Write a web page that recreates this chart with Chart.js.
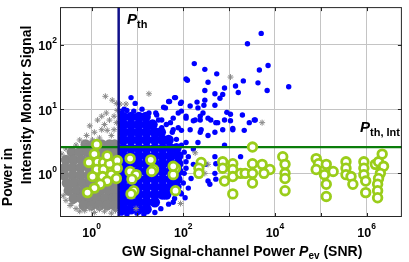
<!DOCTYPE html>
<html><head><meta charset="utf-8">
<script src="https://cdn.jsdelivr.net/npm/chart.js@4.4.1/dist/chart.umd.min.js"></script>
<style>html,body{margin:0;padding:0;background:#fff;overflow:hidden}canvas{display:block}</style>
</head><body>
<canvas id="c" width="409" height="262"></canvas>
<script>
// All values are log10 exponents.
const xRangeExp = [-0.69, 6.77];
const yRangeExp = [-0.68, 2.59];
const xGridExp = [0, 1, 2, 3, 4, 5, 6];
const yGridExp = [0, 1, 2];
const xTickExp = ['0', '2', '4', '6'];
const yTickExp = ['0', '1', '2'];
const pThExp = 0.59;     // P_th (vertical line)
const pThIntExp = 0.41;  // P_th,Int (horizontal line)

// dense grey cloud (below threshold), rows: [y, [x...]]
const grayCore = [
  [0.45, [-0.13, 0.04, 0.22, 0.39, 0.50]],
  [0.33, [-0.43, -0.26, -0.09, 0.09, 0.26, 0.43, 0.52]],
  [0.21, [-0.56, -0.39, -0.22, -0.04, 0.13, 0.30, 0.47, 0.54]],
  [0.09, [-0.58, -0.41, -0.24, -0.06, 0.11, 0.28, 0.45, 0.54]],
  [-0.03, [-0.60, -0.41, -0.24, -0.06, 0.11, 0.28, 0.45, 0.54]],
  [-0.15, [-0.54, -0.37, -0.19, -0.02, 0.15, 0.32, 0.47, 0.54]],
  [-0.27, [-0.50, -0.32, -0.15, 0.02, 0.19, 0.37, 0.52]],
  [-0.39, [-0.39, -0.22, -0.04, 0.13, 0.30, 0.47, 0.54]],
  [-0.50, [-0.17, 0.00, 0.17, 0.34, 0.50]]
];
// scattered grey stars around the cloud
const grayStars = [
  [0.30,1.20],[0.45,1.14],[0.54,1.09],[0.22,0.89],[0.32,0.94],[0.39,0.83],[0.49,0.89],[0.13,0.83],
  [0.28,0.76],[-0.04,0.74],[-0.11,0.59],[-0.26,0.52],[0.06,0.64],[0.22,0.68],[0.34,0.67],[0.49,0.68],
  [0.43,0.59],[0.17,0.55],[0.02,0.52],[0.54,0.79],[0.56,0.98],[-0.17,0.48],[-0.34,0.44],
  [-0.56,0.38],[-0.65,0.30],[-0.62,-0.35],[-0.56,-0.42],[-0.47,-0.50],[-0.34,-0.55],[-0.43,-0.47],
  [-0.15,-0.58],[0.06,-0.61],[0.28,-0.59],[0.43,-0.62],[-0.04,-0.55],[0.17,-0.56],[0.52,-0.58],[-0.26,-0.59],
  [1.25,1.24],[3.03,1.50],[3.72,0.79],[2.26,0.32],[2.54,0.14],[1.94,-0.47],[0.97,-0.55],[2.47,0.00],
  [0.62,1.08],[0.75,1.08]
];
// dense blue cloud (above threshold), rows: [y, [x...]]
const blueCore = [
  [0.88, [0.69, 0.86, 1.03, 1.18]],
  [0.76, [0.69, 0.86, 1.03, 1.20, 1.33]],
  [0.64, [0.69, 0.86, 1.03, 1.20, 1.38, 1.51]],
  [0.52, [0.69, 0.86, 1.03, 1.20, 1.38, 1.55, 1.68]],
  [0.39, [0.69, 0.86, 1.03, 1.20, 1.38, 1.55, 1.72, 1.85]],
  [0.27, [0.69, 0.86, 1.03, 1.20, 1.38, 1.55, 1.72, 1.89]],
  [0.15, [0.69, 0.86, 1.03, 1.20, 1.38, 1.55, 1.72, 1.89]],
  [0.03, [0.69, 0.86, 1.03, 1.20, 1.38, 1.55, 1.72, 1.89]],
  [-0.09, [0.69, 0.86, 1.03, 1.20, 1.38, 1.55, 1.72, 1.87]],
  [-0.21, [0.69, 0.86, 1.03, 1.20, 1.38, 1.55, 1.72, 1.85]],
  [-0.33, [0.69, 0.86, 1.03, 1.20, 1.38, 1.55, 1.63]],
  [-0.45, [0.69, 0.86, 1.03, 1.20, 1.38]],
  [-0.56, [0.69, 0.86, 1.03, 1.20]]
];
// individual blue points
const blueDots = [
  [3.70,2.18],[3.40,2.02],[3.85,1.68],[3.66,1.61],[2.24,1.71],[2.47,1.62],[2.73,1.55],[2.09,1.45],
  [2.54,1.42],[3.14,1.36],[3.31,1.44],[3.63,1.41],[3.83,1.29],[2.90,1.33],[2.47,1.29],[3.20,1.26],
  [2.69,1.24],[2.86,1.23],[2.80,1.17],[1.81,1.18],[1.70,1.12],[1.94,1.09],[2.30,1.11],[2.47,1.14],
  [2.69,1.06],[2.45,1.06],[1.61,1.02],[1.40,0.94],[3.29,0.91],[2.95,0.95],[3.03,0.92],[1.89,0.94],
  [1.96,0.97],[2.06,0.86],[2.37,0.89],[2.60,0.83],[2.75,0.79],[3.44,0.79],[3.57,0.83],[3.08,0.70],
  [2.15,0.68],[1.96,0.67],[1.78,0.68],[1.46,0.83],[1.18,0.86],[1.31,0.79],[4.30,1.35],[2.06,1.47],
  [0.86,1.18],[0.95,1.09],[1.68,1.12],[1.83,1.18],[1.96,1.11],[1.57,1.03],[0.77,0.98],[0.65,0.97],
  [0.71,1.00],[0.92,0.97],[1.10,1.00],[1.25,0.94],[1.42,0.91],[1.53,0.83],[1.63,0.76],[1.76,0.64],
  [1.85,0.53],[1.96,0.44],[2.02,0.33],[2.06,0.18],[2.02,0.00],[2.00,-0.15],[1.94,-0.30],[1.81,-0.39],
  [1.68,-0.48],[1.51,-0.55],[1.38,-0.61],[0.77,-0.64],[0.99,-0.62],[1.14,-0.64],[0.65,-0.62],
  [2.15,1.05],[2.32,1.02],[2.43,0.94],[2.06,0.89],[2.22,0.82],[2.37,0.83],[2.54,0.86],[2.71,0.79],
  [2.90,0.83],[3.03,0.82],[3.55,0.83],[3.08,0.68],[2.54,0.59],[2.37,0.64],[2.69,0.64],[2.90,0.44],
  [2.06,0.48],[2.22,0.38],[2.11,0.26],[2.22,0.14],[2.06,0.08],[2.17,-0.08],[2.11,-0.23],[2.04,-0.38],
  [2.69,0.26],[2.49,0.14],[2.69,0.00],[2.54,-0.12],[2.71,-0.09],[3.25,0.26],[2.32,0.48],[2.71,0.15],
  [2.58,-0.17],[1.78,-0.45],[1.96,-0.32],[1.72,0.79],[1.78,0.86],[1.53,0.71],[1.89,0.71],[2.26,0.83],
  [2.39,0.68],[2.86,0.68],[3.33,0.67]
];
// green hollow circles
const greenRings = [
  [0.06,0.30],[-0.06,0.17],[0.13,0.18],[0.26,0.17],[0.11,0.06],[0.26,0.06],[0.45,0.06],[0.39,0.15],
  [0.02,-0.05],[0.24,-0.05],[0.43,-0.02],[0.54,-0.08],[0.34,-0.12],[0.19,-0.17],[0.06,-0.23],[-0.09,-0.30],
  [0.11,0.45],[0.34,0.27],[0.56,0.20],
  [0.56,0.08],[0.84,0.23],[1.29,0.21],[0.84,0.03],[0.97,-0.02],[0.88,-0.09],[1.35,0.06],[1.83,0.08],
  [1.78,-0.02],[0.92,-0.27],[0.86,-0.32],[1.83,-0.27],[1.31,0.03],[1.78,0.11],
  [3.51,0.41],[2.39,0.17],[2.34,0.08],[2.34,0.00],[2.86,0.18],[3.08,0.15],[2.86,0.08],[3.08,0.06],
  [3.08,-0.05],[2.90,-0.12],[3.25,0.00],[3.35,0.00],[3.51,0.15],[3.51,0.00],[3.72,0.14],[3.89,0.06],
  [3.51,-0.15],[3.08,-0.32],[3.76,0.00],
  [4.17,0.26],[4.22,0.14],[4.22,0.00],[4.22,-0.08],[4.22,-0.27],
  [4.90,0.23],[4.95,0.15],[5.12,0.14],[4.90,0.06],[5.08,-0.02],[5.27,0.03],[5.12,-0.17],[5.12,-0.36],
  [5.55,0.18],[5.55,0.08],[5.55,-0.02],[5.66,-0.05],[5.70,-0.17],
  [5.94,0.18],[5.94,0.08],[5.94,-0.02],[5.98,-0.12],[5.98,-0.30],
  [6.19,0.14],[6.26,0.18],[6.34,0.30],[6.37,0.11],[6.30,0.00],[6.26,-0.08],[6.24,-0.17],[6.24,-0.27],[6.24,-0.38]
];

const P = e => Math.pow(10, e);
const pts = arr => arr.map(([a, b]) => ({x: P(a), y: P(b)}));
const rows = arr => arr.flatMap(([yy, xs]) => xs.map(xx => ({x: P(xx), y: P(yy)})));

const F = '"Liberation Sans", Arial, Helvetica, sans-serif';

function drawParts(ctx, parts, x, y, align) {
  let w = 0;
  parts.forEach(p => { ctx.font = p[1]; w += ctx.measureText(p[0]).width; });
  let cx = align === 'center' ? x - w / 2 : align === 'right' ? x - w : x;
  ctx.textAlign = 'left';
  parts.forEach(p => { ctx.font = p[1]; ctx.fillText(p[0], cx, y + (p[2] || 0)); cx += ctx.measureText(p[0]).width; });
}

const decor = {
  id: 'decor',
  afterDraw(chart) {
    const {ctx, chartArea: a, scales: {x, y}} = chart;
    ctx.save();
    ctx.strokeStyle = '#262626';
    ctx.lineWidth = 1;
    ctx.strokeRect(a.left + 0.5, a.top + 0.5, a.right - a.left - 1, a.bottom - a.top - 1);
    ctx.beginPath();
    xGridExp.forEach(e => {
      const px = Math.round(x.getPixelForValue(P(e))) + 0.5;
      ctx.moveTo(px, a.bottom); ctx.lineTo(px, a.bottom - 4);
      ctx.moveTo(px, a.top); ctx.lineTo(px, a.top + 4);
    });
    yGridExp.forEach(e => {
      const py = Math.round(y.getPixelForValue(P(e))) + 0.5;
      ctx.moveTo(a.left, py); ctx.lineTo(a.left + 4, py);
      ctx.moveTo(a.right, py); ctx.lineTo(a.right - 4, py);
    });
    ctx.stroke();

    ctx.fillStyle = '#000';
    ctx.textBaseline = 'alphabetic';
    const fB = 'bold 12.5px ' + F, fS = 'bold 8.5px ' + F;
    xTickExp.forEach(e => {
      const px = x.getPixelForValue(P(+e));
      drawParts(ctx, [['10', fB, 0], [e, fS, -8]], px, 237, 'center');
    });
    yTickExp.forEach(e => {
      const py = y.getPixelForValue(P(+e));
      drawParts(ctx, [['10', fB, 0], [e, fS, -7]], 57, py + 5.5, 'right');
    });

    drawParts(ctx, [
      ['GW Signal-channel Power ', 'bold 14px ' + F, 0],
      ['P', 'italic bold 14px ' + F, 0],
      ['ev', 'bold 10px ' + F, 3],
      [' (SNR)', 'bold 14px ' + F, 0]
    ], 242, 256, 'center');

    ctx.font = 'bold 14px ' + F;
    ctx.textAlign = 'center';
    ctx.save(); ctx.translate(31, 105); ctx.rotate(-Math.PI / 2); ctx.fillText('Intensity Monitor Signal', 0, 0); ctx.restore();
    ctx.save(); ctx.translate(12, 177); ctx.rotate(-Math.PI / 2); ctx.fillText('Power in', 0, 0); ctx.restore();

    drawParts(ctx, [['P', 'italic bold 15px ' + F, 0], ['th', 'bold 11px ' + F, 4]], 127, 24, 'left');
    drawParts(ctx, [['P', 'italic bold 15px ' + F, 0], ['th, Int', 'bold 11px ' + F, 4]], 360, 132, 'left');
    ctx.restore();
  }
};

const lineAt = (xs, ys) => xs.map((xx, i) => ({x: P(xx), y: P(ys[i])}));

new Chart(document.getElementById('c'), {
  type: 'scatter',
  data: {
    datasets: [
      {label: 'coincident', data: pts(greenRings), pointStyle: 'circle', pointRadius: 4.3, borderWidth: 2.8,
       borderColor: '#9acd1a', backgroundColor: '#ffffff', clip: 0},
      {label: 'P_th', data: lineAt([pThExp, pThExp], yRangeExp), showLine: true, pointRadius: 0,
       borderColor: '#10108a', borderWidth: 2.5},
      {label: 'P_th,Int', data: lineAt(xRangeExp, [pThIntExp, pThIntExp]), showLine: true, pointRadius: 0,
       borderColor: '#0a7d0a', borderWidth: 2.2},
      {label: 'below (stars)', data: pts(grayStars), pointStyle: 'star', pointRadius: 3, borderWidth: 1,
       borderColor: '#8a8a8a', backgroundColor: '#8a8a8a', clip: 0},
      {label: 'above', data: pts(blueDots), pointStyle: 'circle', pointRadius: 2.7, borderWidth: 0,
       backgroundColor: '#0000ff', clip: 0},
      {label: 'above dense', data: rows(blueCore), pointStyle: 'circle', pointRadius: 5.2, borderWidth: 0,
       backgroundColor: '#0000ff', clip: 0},
      {label: 'below dense', data: rows(grayCore), pointStyle: 'circle', pointRadius: 5.2, borderWidth: 0,
       backgroundColor: '#868686', clip: 0}
    ]
  },
  options: {
    responsive: false, animation: false, devicePixelRatio: 1,
    layout: {padding: {top: 1, right: 2, left: 0, bottom: 0}},
    plugins: {legend: {display: false}, tooltip: {enabled: false}},
    scales: {
      x: {type: 'logarithmic', min: P(xRangeExp[0]), max: P(xRangeExp[1]),
          afterBuildTicks: s => { s.ticks = xGridExp.map(e => ({value: P(e)})); },
          afterFit: s => { s.height = 45; },
          ticks: {display: false}, border: {display: false},
          grid: {color: '#c4c4c4', lineWidth: 1, drawTicks: false}},
      y: {type: 'logarithmic', min: P(yRangeExp[0]), max: P(yRangeExp[1]),
          afterBuildTicks: s => { s.ticks = yGridExp.map(e => ({value: P(e)})); },
          afterFit: s => { s.width = 60; },
          ticks: {display: false}, border: {display: false},
          grid: {color: '#c4c4c4', lineWidth: 1, drawTicks: false}}
    }
  },
  plugins: [decor]
});
</script>
</body></html>
